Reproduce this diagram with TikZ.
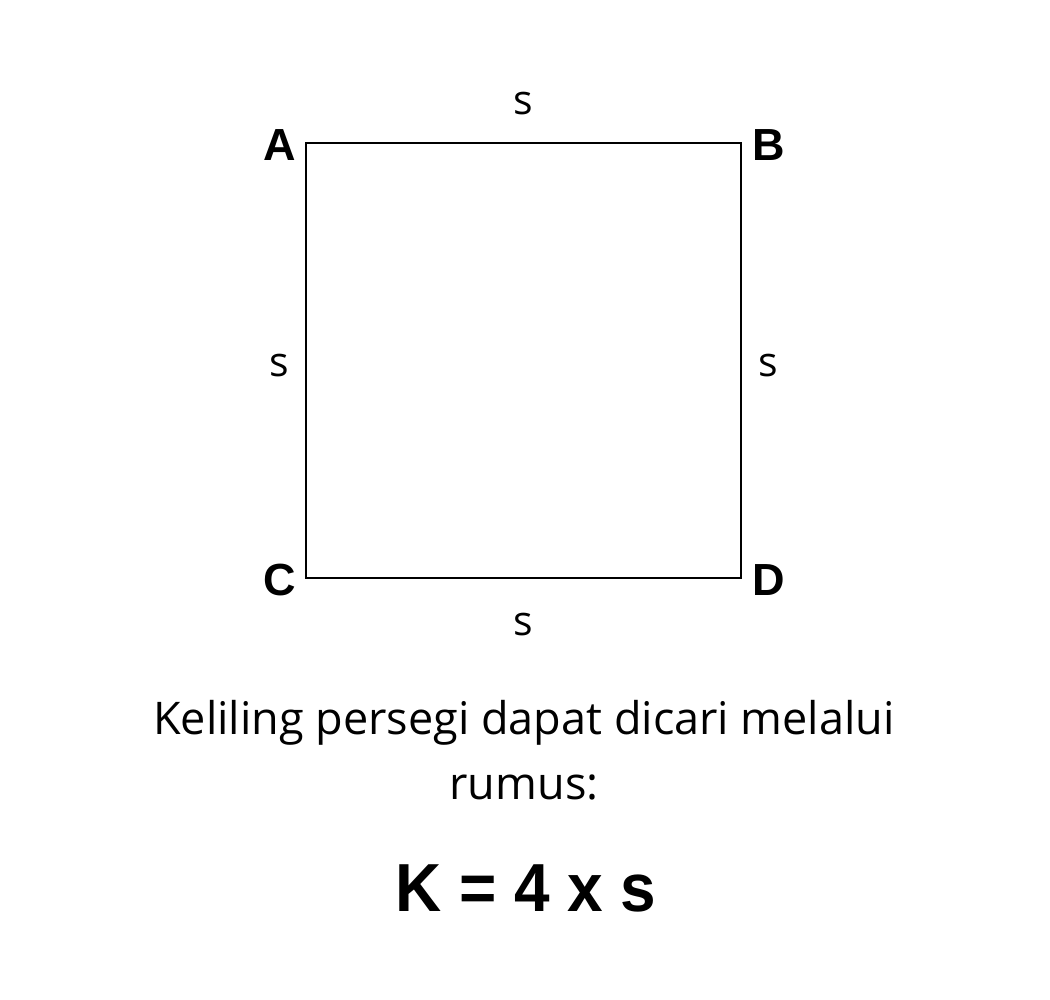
\documentclass[tikz,border=0pt]{standalone}
\usepackage{fontspec}
\setmainfont{Open Sans}
\newfontfamily\boldlab{Liberation Sans}
\begin{document}
\begin{tikzpicture}[x=1pt,y=-1pt,
  vert/.style={inner sep=0pt, font=\boldlab\fontsize{45}{50}\selectfont\bfseries},
  side/.style={inner sep=0pt, font=\fontsize{41}{44}\selectfont},
  body/.style={inner sep=0pt, anchor=base, font=\fontsize{45}{50}\selectfont},
  formula/.style={inner sep=0pt, anchor=base, font=\boldlab\fontsize{68}{72}\selectfont\bfseries}]
\useasboundingbox (0,0) rectangle (1050,1000);
\fill[white] (0,0) rectangle (1050,1000);
\coordinate (A) at (306,143);
\coordinate (B) at (741,143);
\coordinate (D) at (741,578);
\coordinate (C) at (306,578);
\draw[line width=1.5pt] (A) -- (B) -- (D) -- (C) -- cycle;
\node[vert] (lA) at (280,145) {A};
\node[vert] (lB) at (769,145) {B};
\node[vert] (lC) at (280,580) {C};
\node[vert] (lD) at (769,580) {D};
\node[side] (sT) at (523,104) {s};
\node[side] (sL) at (279,366) {s};
\node[side] (sR) at (768,366) {s};
\node[side] (sB) at (523,625) {s};
\node[body] (t1) at (524,734) {Keliling persegi dapat dicari melalui};
\node[body] (t2) at (524,799) {rumus:};
\node[formula] (f) at (526,911) {\scalebox{0.94}[1]{K = 4 x s}};
\end{tikzpicture}
\end{document}
